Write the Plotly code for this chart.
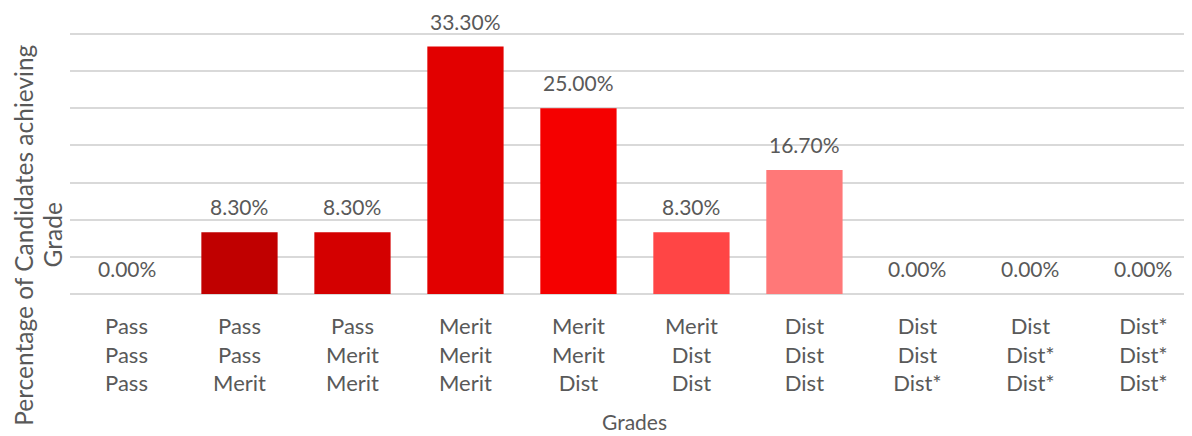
import plotly.graph_objects as go

categories = [
    "Pass<br>Pass<br>Pass",
    "Pass<br>Pass<br>Merit",
    "Pass<br>Merit<br>Merit",
    "Merit<br>Merit<br>Merit",
    "Merit<br>Merit<br>Dist",
    "Merit<br>Dist<br>Dist",
    "Dist<br>Dist<br>Dist",
    "Dist<br>Dist<br>Dist*",
    "Dist<br>Dist*<br>Dist*",
    "Dist*<br>Dist*<br>Dist*",
]
values = [0.0, 8.3, 8.3, 33.3, 25.0, 8.3, 16.7, 0.0, 0.0, 0.0]
colors = ["#C00000", "#C00000", "#D40000", "#E20000", "#F50000",
          "#FF4545", "#FF7878", "#FF9999", "#FFB3B3", "#FFCCCC"]
grid_vals = [0, 5, 10, 15, 20, 25, 30, 35]
y_title_lines = ["Percentage of Candidates achieving", "Grade"]
x_title = "Grades"

FONT = "Lato"
GREY = "#595959"

fig = go.Figure()
fig.add_trace(go.Bar(
    x=list(range(len(categories))),
    y=values,
    marker=dict(color=colors, line=dict(width=0)),
    width=0.675,
    hoverinfo="skip",
))

annotations = []
for i, v in enumerate(values):
    annotations.append(dict(
        x=i, y=v, xref="x", yref="y",
        text=f"{v:.2f}%", showarrow=False,
        yanchor="bottom", yshift=11,
        font=dict(family=FONT, size=21, color=GREY),
    ))

for xp, line in zip([-0.0410, -0.0155], y_title_lines):
    annotations.append(dict(
        x=xp, y=0.225, xref="paper", yref="paper",
        text=line, textangle=-90, showarrow=False,
        xanchor="center", yanchor="middle",
        font=dict(family=FONT, size=24.5, color=GREY),
    ))
annotations.append(dict(
    x=0.5027, y=-0.483, xref="paper", yref="paper",
    text=x_title, showarrow=False,
    xanchor="center", yanchor="middle",
    font=dict(family=FONT, size=21, color=GREY),
))

fig.update_layout(
    width=1184, height=428,
    margin=dict(l=62, r=0, t=23, b=142),
    paper_bgcolor="white", plot_bgcolor="white",
    showlegend=False,
    annotations=annotations,
)
fig.update_xaxes(
    tickmode="array",
    tickvals=list(range(len(categories))),
    ticktext=categories,
    range=[-0.5, 9.43],
    showgrid=False, zeroline=False, showline=False,
    ticks="",
    tickfont=dict(family=FONT, size=22, color=GREY),
    ticklabelstandoff=17,
)
fig.update_yaxes(
    range=[0, 35.4],
    tickmode="array",
    tickvals=grid_vals,
    showticklabels=False,
    showgrid=True, gridcolor="#D9D9D9", gridwidth=1.5,
    zeroline=True, zerolinecolor="#D9D9D9", zerolinewidth=1.5,
    showline=False, ticks="",
)

fig.write_html("out.html")
